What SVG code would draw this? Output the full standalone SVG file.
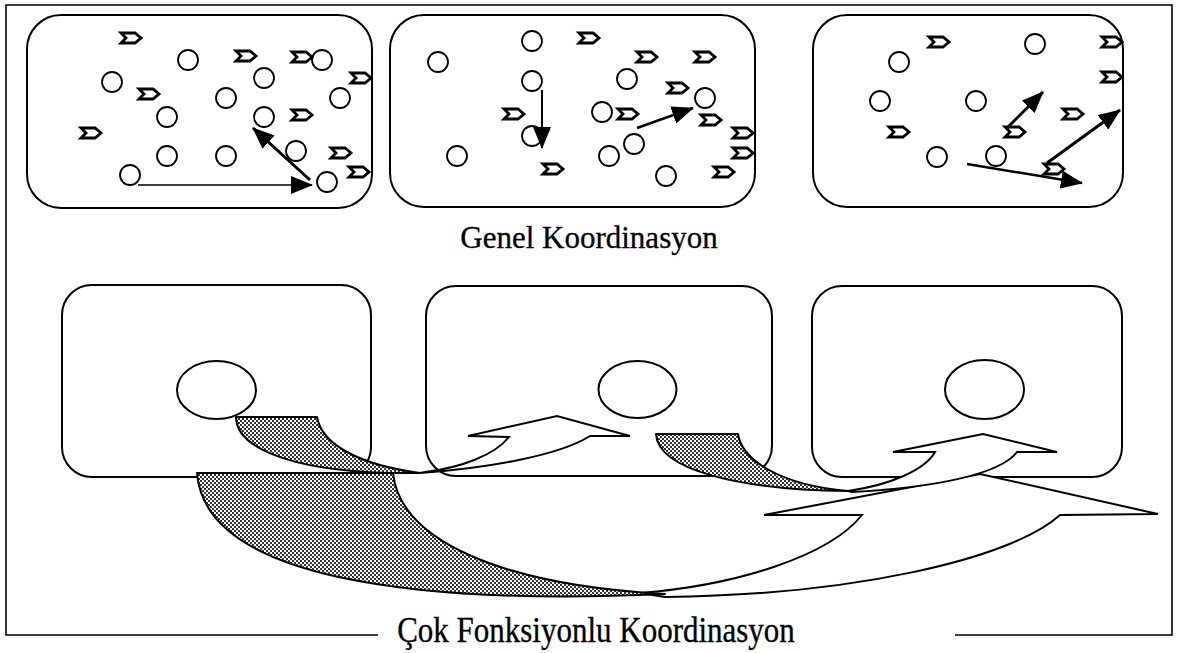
<svg xmlns="http://www.w3.org/2000/svg" xmlns:xlink="http://www.w3.org/1999/xlink" width="1177" height="653" viewBox="0 0 1177 653">
<style>
.frame{fill:none;stroke:#000;stroke-width:1.6}
.panel{fill:#fff;stroke:#000;stroke-width:2}
.dot{fill:#fff;stroke:#000;stroke-width:1.8}
.chev{fill:#fff;stroke:#000;stroke-width:2.8;stroke-linejoin:miter}
.ell{fill:#fff;stroke:#000;stroke-width:2}
.arr{fill:none;stroke:#000}
.back{fill:url(#hatch);stroke:#000;stroke-width:2;stroke-linejoin:round}
.front{fill:#fff;stroke:#000;stroke-width:2;stroke-linejoin:miter}
.title{font-family:"Liberation Serif","Times New Roman",serif;font-size:31px;fill:#000;stroke:#000;stroke-width:0.3;text-anchor:middle}
</style>
<defs>
<pattern id="hatch" width="4" height="4" patternUnits="userSpaceOnUse">
<rect width="4" height="4" fill="#fff"/>
<rect x="0" y="0" width="2" height="2" fill="#333"/>
<rect x="2" y="2" width="2" height="2" fill="#333"/>
</pattern>
<path id="chev" class="chev" d="M-10,-5 L4,-5 L10,0 L4,5 L-10,5 L-5,0 Z"/>
<marker id="ah" viewBox="0 0 22 18" markerWidth="22" markerHeight="18" refX="21" refY="9" orient="auto" markerUnits="userSpaceOnUse">
<path d="M0,0 L22,9 L0,18 Z" fill="#000"/>
</marker>
</defs>
<rect width="1177" height="653" fill="#fff"/>
<path class="frame" d="M378,635 L6,635 L6,5 L1172,5 L1172,635 L955,635"/>

<g id="panel-top-1">
<rect class="panel" x="27" y="15" width="345" height="193" rx="34" ry="34"/>
<circle class="dot" cx="188" cy="60" r="10"/>
<circle class="dot" cx="112" cy="82" r="10"/>
<circle class="dot" cx="264" cy="78" r="10"/>
<circle class="dot" cx="322" cy="60" r="10"/>
<circle class="dot" cx="226" cy="98" r="10"/>
<circle class="dot" cx="340" cy="98" r="10"/>
<circle class="dot" cx="167" cy="117" r="10"/>
<circle class="dot" cx="264" cy="117" r="10"/>
<circle class="dot" cx="167" cy="156" r="10"/>
<circle class="dot" cx="226" cy="156" r="10"/>
<circle class="dot" cx="296" cy="151" r="10"/>
<circle class="dot" cx="130" cy="175" r="10"/>
<circle class="dot" cx="327" cy="182" r="10"/>
<use xlink:href="#chev" x="131" y="38"/>
<use xlink:href="#chev" x="246" y="56"/>
<use xlink:href="#chev" x="302" y="57"/>
<use xlink:href="#chev" x="361" y="78"/>
<use xlink:href="#chev" x="149" y="94"/>
<use xlink:href="#chev" x="91" y="133"/>
<use xlink:href="#chev" x="302" y="115"/>
<use xlink:href="#chev" x="341" y="153"/>
<use xlink:href="#chev" x="359" y="172"/>
</g>

<g id="panel-top-2">
<rect class="panel" x="390" y="15" width="365" height="192" rx="34" ry="34"/>
<circle class="dot" cx="532" cy="41" r="10"/>
<circle class="dot" cx="438" cy="62" r="10"/>
<circle class="dot" cx="532" cy="81" r="10"/>
<circle class="dot" cx="627" cy="79" r="10"/>
<circle class="dot" cx="705" cy="98" r="10"/>
<circle class="dot" cx="602" cy="112" r="10"/>
<circle class="dot" cx="532" cy="136" r="10"/>
<circle class="dot" cx="634" cy="144" r="10"/>
<circle class="dot" cx="457" cy="156" r="10"/>
<circle class="dot" cx="609" cy="156" r="10"/>
<circle class="dot" cx="666" cy="176" r="10"/>
<use xlink:href="#chev" x="589" y="38"/>
<use xlink:href="#chev" x="647" y="57"/>
<use xlink:href="#chev" x="705" y="57"/>
<use xlink:href="#chev" x="678" y="88"/>
<use xlink:href="#chev" x="514" y="114"/>
<use xlink:href="#chev" x="628" y="114"/>
<use xlink:href="#chev" x="711" y="120"/>
<use xlink:href="#chev" x="743" y="133"/>
<use xlink:href="#chev" x="743" y="153"/>
<use xlink:href="#chev" x="553" y="169"/>
<use xlink:href="#chev" x="724" y="172"/>
</g>

<g id="panel-top-3">
<rect class="panel" x="813" y="15" width="310" height="192" rx="34" ry="34"/>
<circle class="dot" cx="1035" cy="44" r="10"/>
<circle class="dot" cx="899" cy="62" r="10"/>
<circle class="dot" cx="880" cy="101" r="10"/>
<circle class="dot" cx="976" cy="101" r="10"/>
<circle class="dot" cx="937" cy="157" r="10"/>
<circle class="dot" cx="996" cy="156" r="10"/>
<use xlink:href="#chev" x="939" y="42"/>
<use xlink:href="#chev" x="1112" y="42"/>
<use xlink:href="#chev" x="1112" y="77"/>
<use xlink:href="#chev" x="1073" y="114"/>
<use xlink:href="#chev" x="899" y="132"/>
<use xlink:href="#chev" x="1015" y="132"/>
<use xlink:href="#chev" x="1054" y="169"/>
</g>

<g id="label-genel">
<text class="title" x="589" y="248">Genel Koordinasyon</text>
</g>

<g id="panel-bottom-1">
<rect class="panel" x="62" y="285" width="309" height="192" rx="30" ry="30"/>
<ellipse class="ell" cx="216.5" cy="390" rx="39.5" ry="29"/>
</g>
<g id="panel-bottom-2">
<rect class="panel" x="426" y="286" width="346" height="190" rx="30" ry="30"/>
<ellipse class="ell" cx="637.5" cy="389.5" rx="39" ry="28.5"/>
</g>
<g id="panel-bottom-3">
<rect class="panel" x="812" y="286" width="310" height="191" rx="30" ry="30"/>
<ellipse class="ell" cx="984.5" cy="389.5" rx="39.5" ry="29.5"/>
</g>

<g id="connectors">
<line class="arr" x1="138" y1="185" x2="312" y2="185" stroke-width="1.6" marker-end="url(#ah)"/>
<line class="arr" x1="310" y1="180" x2="253" y2="128" stroke-width="3" marker-end="url(#ah)"/>
<line class="arr" x1="542" y1="90" x2="542" y2="148" stroke-width="2" marker-end="url(#ah)"/>
<line class="arr" x1="637" y1="128" x2="693" y2="108" stroke-width="2.5" marker-end="url(#ah)"/>
<line class="arr" x1="1007" y1="128" x2="1043" y2="92" stroke-width="3" marker-end="url(#ah)"/>
<line class="arr" x1="1047" y1="163" x2="1120" y2="110" stroke-width="3" marker-end="url(#ah)"/>
<line class="arr" x1="967" y1="164" x2="1082" y2="183" stroke-width="2.5" marker-end="url(#ah)"/>

<g id="curved-arrow-big">
<path class="front" d="M665,597 C850,595 1010,560 1060,515 L1158,514 L980,474 L764,515 L862,515 C830,555 740,585 640,593 Z"/>
<path class="back" d="M197,473 L393,473 C400,540 500,585 665,594 C420,605 205,580 197,473 Z"/>
</g>
<g id="curved-arrow-1">
<path class="front" d="M420,473 C490,468 560,455 590,436 L630,436 L557,416 L468,436 L509,437 C495,455 460,468 425,472 Z"/>
<path class="back" d="M236,417 L317,417 C322,445 360,465 420,473 C300,475 236,450 236,417 Z"/>
</g>
<g id="curved-arrow-2">
<path class="front" d="M852,492 C930,488 1000,475 1017,452 L1057,452 L983,434 L893,452 L935,452 C925,470 890,485 848,491 Z"/>
<path class="back" d="M656,434 L738,434 C742,460 780,485 848,491 C740,490 658,470 656,434 Z"/>
</g>
</g>

<g id="label-cok">
<text class="title" transform="translate(596,642) scale(1,1.15)" x="0" y="0">Çok Fonksiyonlu Koordinasyon</text>
</g>
</svg>
